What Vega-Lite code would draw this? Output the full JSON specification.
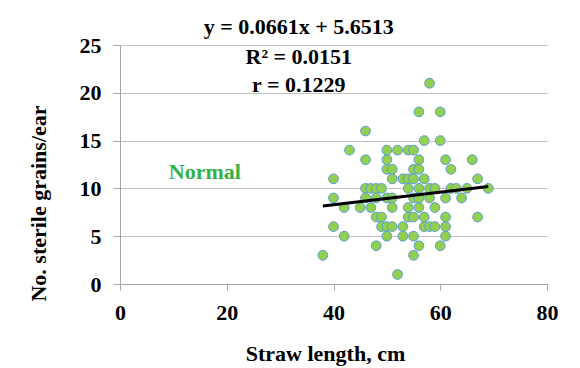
{
  "$schema": "https://vega.github.io/schema/vega-lite/v6.json",
  "autosize": "none",
  "width": 427,
  "height": 239,
  "padding": {"left": 120, "top": 45, "right": 33, "bottom": 84},
  "background": "white",
  "config": {
    "view": {"stroke": null},
    "font": "Liberation Serif"
  },
  "datasets": {
    "pts": [
      {"straw":38,"sterile":3},{"straw":40,"sterile":11},{"straw":40,"sterile":9},{"straw":40,"sterile":6},
      {"straw":42,"sterile":8},{"straw":42,"sterile":5},{"straw":43,"sterile":14},{"straw":45,"sterile":8},
      {"straw":46,"sterile":16},{"straw":46,"sterile":13},{"straw":46,"sterile":10},{"straw":46,"sterile":9},
      {"straw":47,"sterile":10},{"straw":47,"sterile":8},{"straw":48,"sterile":10},{"straw":48,"sterile":9},
      {"straw":48,"sterile":7},{"straw":48,"sterile":4},{"straw":49,"sterile":10},{"straw":49,"sterile":7},
      {"straw":49,"sterile":6},{"straw":50,"sterile":14},{"straw":50,"sterile":13},{"straw":50,"sterile":12},
      {"straw":50,"sterile":9},{"straw":50,"sterile":6},{"straw":50,"sterile":5},{"straw":51,"sterile":12},
      {"straw":51,"sterile":11},{"straw":51,"sterile":9},{"straw":51,"sterile":8},{"straw":51,"sterile":6},
      {"straw":52,"sterile":14},{"straw":52,"sterile":1},{"straw":53,"sterile":11},{"straw":53,"sterile":6},
      {"straw":53,"sterile":5},{"straw":54,"sterile":14},{"straw":54,"sterile":11},{"straw":54,"sterile":10},
      {"straw":54,"sterile":8},{"straw":54,"sterile":7},{"straw":55,"sterile":14},{"straw":55,"sterile":12},
      {"straw":55,"sterile":11},{"straw":55,"sterile":9},{"straw":55,"sterile":7},{"straw":55,"sterile":5},
      {"straw":55,"sterile":3},{"straw":56,"sterile":18},{"straw":56,"sterile":13},{"straw":56,"sterile":12},
      {"straw":56,"sterile":10},{"straw":56,"sterile":9},{"straw":56,"sterile":8},{"straw":56,"sterile":4},
      {"straw":57,"sterile":15},{"straw":57,"sterile":11},{"straw":57,"sterile":7},{"straw":57,"sterile":6},
      {"straw":58,"sterile":21},{"straw":58,"sterile":10},{"straw":58,"sterile":9},{"straw":58,"sterile":6},
      {"straw":59,"sterile":10},{"straw":59,"sterile":8},{"straw":59,"sterile":6},{"straw":60,"sterile":18},
      {"straw":60,"sterile":15},{"straw":60,"sterile":4},{"straw":61,"sterile":13},{"straw":61,"sterile":9},
      {"straw":61,"sterile":7},{"straw":61,"sterile":6},{"straw":61,"sterile":5},{"straw":62,"sterile":12},
      {"straw":62,"sterile":10},{"straw":63,"sterile":10},{"straw":64,"sterile":9},{"straw":65,"sterile":10},
      {"straw":66,"sterile":13},{"straw":67,"sterile":11},{"straw":67,"sterile":7},{"straw":69,"sterile":10}
    ],
    "trend": [
      {"straw":38,"sterile":8.16},{"straw":69,"sterile":10.21}
    ],
    "labels": [
      {"straw":33.5,"sterile":26.9,"txt":"y = 0.0661x + 5.6513","kind":"eq"},
      {"straw":33.5,"sterile":23.75,"txt":"R² = 0.0151","kind":"eq"},
      {"straw":33.5,"sterile":20.8,"txt":"r = 0.1229","kind":"eq"},
      {"straw":15.9,"sterile":11.7,"txt":"Normal","kind":"normal"}
    ]
  },
  "layer": [
    {
      "data": {"name": "pts"},
      "mark": {"type": "point", "shape": "circle", "filled": true, "fill": "#92D050", "stroke": "#5B9BD5", "strokeWidth": 1, "size": 95, "opacity": 1},
      "encoding": {
        "x": {"field": "straw", "type": "quantitative", "scale": {"domain": [0, 80], "nice": false},
          "axis": {"values": [0,20,40,60,80], "grid": false, "labelFlush": false, "domainColor": "#A6A6A6", "tickColor": "#A6A6A6", "tickSize": 6,
            "labelFont": "Liberation Serif", "labelFontWeight": "bold", "labelFontSize": 22, "labelColor": "#000", "labelPadding": 12,
            "title": "Straw length, cm", "titleFont": "Liberation Serif", "titleFontWeight": "bold", "titleFontSize": 22, "titleColor": "#000",
            "titleX": 205, "titleY": 76, "titleBaseline": "alphabetic"}},
        "y": {"field": "sterile", "type": "quantitative", "scale": {"domain": [0, 25], "nice": false},
          "axis": {"values": [0,5,10,15,20,25], "grid": true, "labelFlush": false, "gridColor": "#BFBFBF", "domainColor": "#A6A6A6", "tickColor": "#A6A6A6", "tickSize": 7,
            "labelFont": "Liberation Serif", "labelFontWeight": "bold", "labelFontSize": 22, "labelColor": "#000", "labelPadding": 12,
            "title": "No. sterile grains/ear", "titleFont": "Liberation Serif", "titleFontWeight": "bold", "titleFontSize": 22, "titleColor": "#000",
            "titleX": -82, "titleY": 158, "titleAngle": -90, "titleAlign": "center", "titleBaseline": "middle"}}
      }
    },
    {
      "data": {"name": "trend"},
      "mark": {"type": "line", "color": "#000", "strokeWidth": 3},
      "encoding": {
        "x": {"field": "straw", "type": "quantitative"},
        "y": {"field": "sterile", "type": "quantitative"}
      }
    },
    {
      "data": {"name": "labels"},
      "mark": {"type": "text", "font": "Liberation Serif", "fontWeight": "bold", "fontSize": 22, "align": "center", "baseline": "middle"},
      "encoding": {
        "x": {"field": "straw", "type": "quantitative"},
        "y": {"field": "sterile", "type": "quantitative"},
        "text": {"field": "txt"},
        "color": {"field": "kind", "type": "nominal", "scale": {"domain": ["eq","normal"], "range": ["#000000","#33B249"]}, "legend": null}
      }
    }
  ]
}
